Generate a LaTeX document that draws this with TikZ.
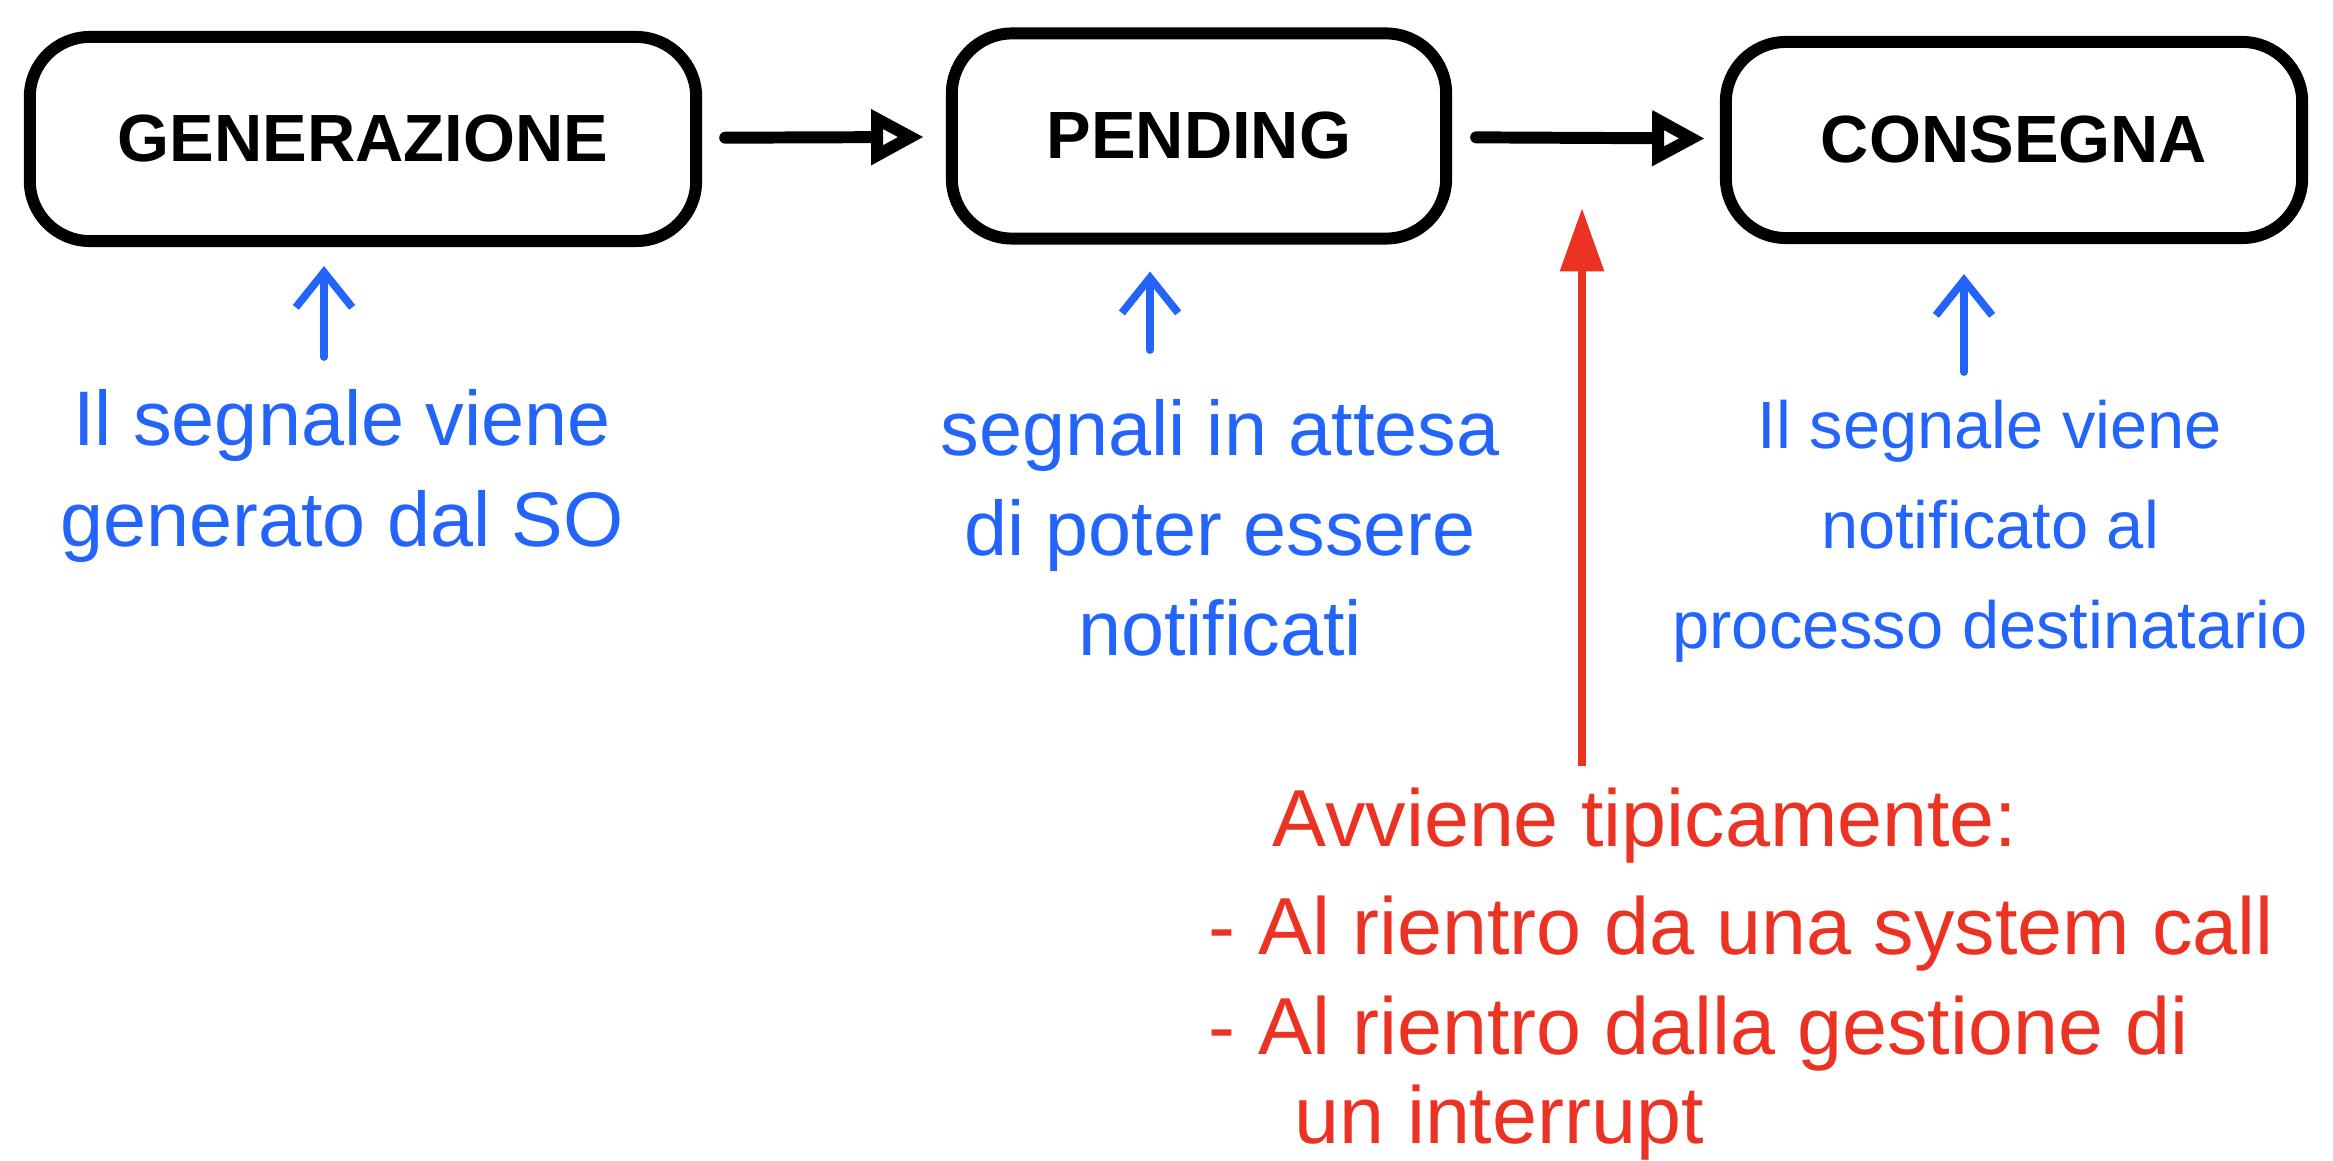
\documentclass[tikz,border=0pt]{standalone}
\usepackage{fontspec}
\setmainfont{Liberation Sans}
\usetikzlibrary{arrows.meta}
\definecolor{noteblue}{RGB}{35,100,250}
\definecolor{notered}{RGB}{235,50,35}
\tikzset{
  stagebox/.style={rectangle, rounded corners=0.6cm, draw=black, line width=3.4pt, inner sep=0pt, font=\fontsize{19}{23}\selectfont\bfseries},
  flowedge/.style={-{Triangle[open, length=15pt, width=15pt]}, line width=3.4pt, line cap=round, draw=black},
  noteedge/.style={-{Straight Barb[length=10pt, width=16pt]}, line width=2.2pt, line cap=round, draw=noteblue},
  remedge/.style={-{Triangle[length=18pt, width=12pt]}, line width=2.4pt, draw=notered},
  notetext/.style={text=noteblue, align=center, inner sep=0pt, font=\fontsize{22}{28.5}\selectfont},
  remtext/.style={text=notered, anchor=west, inner sep=0pt, font=\fontsize{23}{28}\selectfont}
}

\begin{document}
\begin{tikzpicture}[x=0.01cm, y=-0.01cm]
  \useasboundingbox (0,0) rectangle (2333,1161);

  % stadi del segnale
  \node[stagebox, minimum width=6.66cm, minimum height=2.04cm] (gen) at (363,139) {GENERAZIONE};
  \node[stagebox, minimum width=4.94cm, minimum height=2.05cm] (pend) at (1199,136) {PENDING};
  \node[stagebox, minimum width=5.76cm, minimum height=1.96cm] (cons) at (2014,140) {CONSEGNA};

  \draw[flowedge, shorten <=0.23cm, shorten >=0.22cm] (gen) -- (pend);
  \draw[flowedge, shorten <=0.24cm, shorten >=0.15cm] (pend) -- (cons);

  % note
  \node[notetext] (gennote) at (342,476) {Il segnale viene\\generato dal SO};
  \node[notetext] (pendnote) at (1220,528) {segnali in attesa\\di poter essere\\notificati};
  \node[notetext, font=\fontsize{19}{28.5}\selectfont] (consnote) at (1990,531) {Il segnale viene\\notificato al\\processo destinatario};

  \coordinate (g1) at (324,357);
  \coordinate (p1) at (1150,350);
  \coordinate (c1) at (1964,372);
  \draw[noteedge, shorten >=0.19cm] (g1) -- (g1 |- gen.south);
  \draw[noteedge, shorten >=0.27cm] (p1) -- (p1 |- pend.south);
  \draw[noteedge, shorten >=0.3cm] (c1) -- (c1 |- cons.south);

  % quando avviene la consegna
  \node[remtext] (rem) at (1272,826) {Avviene tipicamente:};
  \node[remtext] (rem1) at (1208,934) {- Al rientro da una system call};
  \node[remtext] (rem2) at (1208,1034) {- Al rientro dalla gestione di};
  \node[remtext] (rem3) at (1294,1123) {un interrupt};

  \coordinate (r1) at (1582,766);
  \draw[remedge] (r1) -- (1582,208);
\end{tikzpicture}
\end{document}
